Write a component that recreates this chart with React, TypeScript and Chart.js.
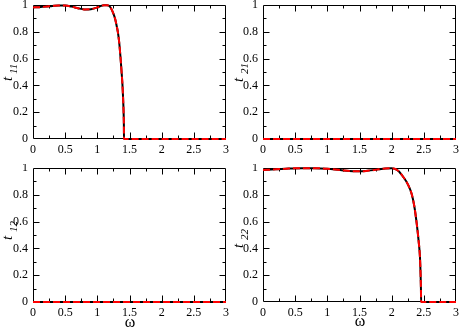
import React, { useEffect, useRef } from "react";
import { Chart, registerables } from "chart.js";

Chart.register(...registerables);

// ---- data ----
const omega11 = [0, 0.1, 0.2, 0.3, 0.4, 0.5, 0.6, 0.7, 0.8, 0.9, 1.0, 1.05, 1.1, 1.15, 1.2, 1.25, 1.28, 1.3, 1.32, 1.34, 1.36, 1.38, 1.39, 1.4, 1.405, 1.41, 1.413, 1.4142, 1.5, 2, 2.5, 3];
const t11 = [0.982, 0.984, 0.988, 0.993, 0.997, 0.996, 0.988, 0.976, 0.967, 0.969, 0.982, 0.992, 0.998, 0.998, 0.985, 0.935, 0.89, 0.845, 0.795, 0.72, 0.61, 0.48, 0.41, 0.31, 0.25, 0.17, 0.09, 0, 0, 0, 0, 0];

const omega22 = [0, 0.2, 0.4, 0.6, 0.8, 1.0, 1.2, 1.4, 1.5, 1.6, 1.8, 1.9, 2.0, 2.1, 2.18, 2.25, 2.31, 2.35, 2.39, 2.42, 2.44, 2.45, 2.455, 2.458, 2.5, 3];
const t22 = [0.985, 0.99, 0.996, 0.999, 0.999, 0.995, 0.985, 0.976, 0.975, 0.978, 0.99, 0.997, 0.998, 0.98, 0.933, 0.88, 0.808, 0.72, 0.583, 0.45, 0.333, 0.2, 0.1, 0, 0, 0];

const omegaFlat = [0, 0.5, 1, 1.5, 2, 2.5, 3];
const t21 = [0, 0, 0, 0, 0, 0, 0];
const t12 = [0, 0, 0, 0, 0, 0, 0];

const X_MIN = 0, X_MAX = 3, X_STEP = 0.5;
const Y_MIN = 0, Y_MAX = 1, Y_STEP = 0.2;
const X_LABEL = "ω";
const Y_LABEL = "t";

const SERIF = '"Liberation Serif", "DejaVu Serif", serif';

type Lab = { tx: number; ty: number; sx: number; sy: number };
type PanelCfg = {
  left: number; top: number; w: number; h: number;
  pad: { left: number; top: number; right: number; bottom: number };
  yW: number; xH: number;
  xs: number[]; ys: number[]; sub: string; lab: Lab;
  omega?: { x: number; y: number };
};

const panels: PanelCfg[] = [
  { left: 0, top: 0, w: 229, h: 164, pad: { left: 0, top: 5, right: 3, bottom: 0 }, yW: 33, xH: 25,
    xs: omega11, ys: t11, sub: "11", lab: { tx: 12, ty: 81, sx: 17, sy: 74 } },
  { left: 229, top: 0, w: 230, h: 164, pad: { left: 0, top: 5, right: 3, bottom: 0 }, yW: 34, xH: 25,
    xs: omegaFlat, ys: t21, sub: "21", lab: { tx: 14, ty: 82, sx: 19, sy: 74 } },
  { left: 0, top: 164, w: 229, h: 165, pad: { left: 0, top: 4, right: 3, bottom: 0 }, yW: 33, xH: 27,
    xs: omegaFlat, ys: t12, sub: "12", lab: { tx: 12, ty: 76, sx: 17, sy: 68 }, omega: { x: 130, y: 159 } },
  { left: 229, top: 164, w: 230, h: 165, pad: { left: 0, top: 4, right: 3, bottom: 0 }, yW: 34, xH: 27,
    xs: omega22, ys: t22, sub: "22", lab: { tx: 14, ty: 84, sx: 19, sy: 76 }, omega: { x: 131, y: 158 } },
];

const fmt = (v: any) => String(parseFloat(Number(v).toFixed(3)));

const framePlugin = {
  id: "frame",
  beforeDatasetsDraw(chart: any) {
    const { ctx, chartArea: a } = chart;
    const xs = chart.scales.x, ys = chart.scales.y;
    ctx.save();
    ctx.strokeStyle = "#000";
    ctx.lineWidth = 1;
    ctx.beginPath();
    const L = Math.round(a.left) + 0.5, R = Math.round(a.right) - 0.5;
    const T = Math.round(a.top) + 0.5, B = Math.round(a.bottom) - 0.5;
    ctx.rect(L, T, R - L, B - T);
    const nx = Math.round((X_MAX - X_MIN) / (X_STEP / 2));
    for (let i = 1; i < nx; i++) {
      const px = Math.round(xs.getPixelForValue(X_MIN + (i * X_STEP) / 2)) + 0.5;
      const len = i % 2 === 0 ? 6 : 3;
      ctx.moveTo(px, B); ctx.lineTo(px, B - len);
      ctx.moveTo(px, T); ctx.lineTo(px, T + len);
    }
    const ny = Math.round((Y_MAX - Y_MIN) / (Y_STEP / 2));
    for (let j = 1; j < ny; j++) {
      const py = Math.round(ys.getPixelForValue(Y_MIN + (j * Y_STEP) / 2)) + 0.5;
      const len = j % 2 === 0 ? 6 : 3;
      ctx.moveTo(L, py); ctx.lineTo(L + len, py);
      ctx.moveTo(R, py); ctx.lineTo(R - len, py);
    }
    ctx.stroke();
    ctx.restore();
  },
  afterDraw(chart: any, _args: any, opts: any) {
    const { ctx } = chart;
    const lab: Lab = opts.lab;
    ctx.save();
    ctx.fillStyle = "#000";
    ctx.textAlign = "left";
    ctx.textBaseline = "alphabetic";
    ctx.save();
    ctx.translate(lab.tx, lab.ty);
    ctx.rotate(-Math.PI / 2);
    ctx.font = `italic 15px ${SERIF}`;
    ctx.fillText(Y_LABEL, 0, 0);
    ctx.restore();
    ctx.save();
    ctx.translate(lab.sx, lab.sy);
    ctx.rotate(-Math.PI / 2);
    ctx.font = `italic 11px ${SERIF}`;
    ctx.fillText(opts.sub, 0, 0);
    ctx.restore();
    if (opts.omega) {
      ctx.font = `16px ${SERIF}`;
      ctx.textAlign = "center";
      ctx.textBaseline = "middle";
      ctx.fillText(X_LABEL, opts.omega.x, opts.omega.y);
    }
    ctx.restore();
  },
};

function Panel({ cfg }: { cfg: PanelCfg }) {
  const ref = useRef<HTMLCanvasElement | null>(null);
  useEffect(() => {
    const data = cfg.xs.map((x, i) => ({ x, y: cfg.ys[i] }));
    const chart = new Chart(ref.current as HTMLCanvasElement, {
      type: "line",
      data: {
        datasets: [
          { data, borderColor: "#ff0000", borderWidth: 2, borderDash: [7, 3], pointRadius: 0,
            cubicInterpolationMode: "monotone", fill: false, clip: 4 } as any,
          { data, borderColor: "#000000", borderWidth: 2, pointRadius: 0,
            cubicInterpolationMode: "monotone", fill: false, clip: 4 } as any,
        ],
      },
      options: {
        animation: false,
        responsive: false,
        events: [],
        layout: { padding: cfg.pad },
        plugins: {
          legend: { display: false },
          tooltip: { enabled: false },
          frame: { lab: cfg.lab, sub: cfg.sub, omega: cfg.omega },
        } as any,
        scales: {
          x: {
            type: "linear", min: X_MIN, max: X_MAX,
            grid: { display: false, drawTicks: false },
            border: { display: false },
            ticks: { stepSize: X_STEP, color: "#000", padding: 4, maxRotation: 0,
              font: { family: SERIF, size: 12 }, callback: fmt },
            afterFit: (s: any) => { s.height = cfg.xH; s.paddingLeft = 0; s.paddingRight = 0; },
          },
          y: {
            type: "linear", min: Y_MIN, max: Y_MAX,
            grid: { display: false, drawTicks: false },
            border: { display: false },
            ticks: { stepSize: Y_STEP, color: "#000", padding: 5,
              font: { family: SERIF, size: 12 }, callback: fmt },
            afterFit: (s: any) => { s.width = cfg.yW; s.paddingTop = 0; s.paddingBottom = 0; },
          },
        },
      } as any,
      plugins: [framePlugin as any],
    });
    return () => chart.destroy();
  }, []);
  return (
    <canvas
      ref={ref}
      width={cfg.w}
      height={cfg.h}
      style={{ position: "absolute", left: cfg.left, top: cfg.top, width: cfg.w, height: cfg.h }}
    />
  );
}

export default function App() {
  return (
    <div style={{ position: "fixed", left: 0, top: 0, width: 459, height: 329, background: "#fff", overflow: "hidden" }}>
      {panels.map((p, i) => (
        <Panel key={i} cfg={p} />
      ))}
    </div>
  );
}
